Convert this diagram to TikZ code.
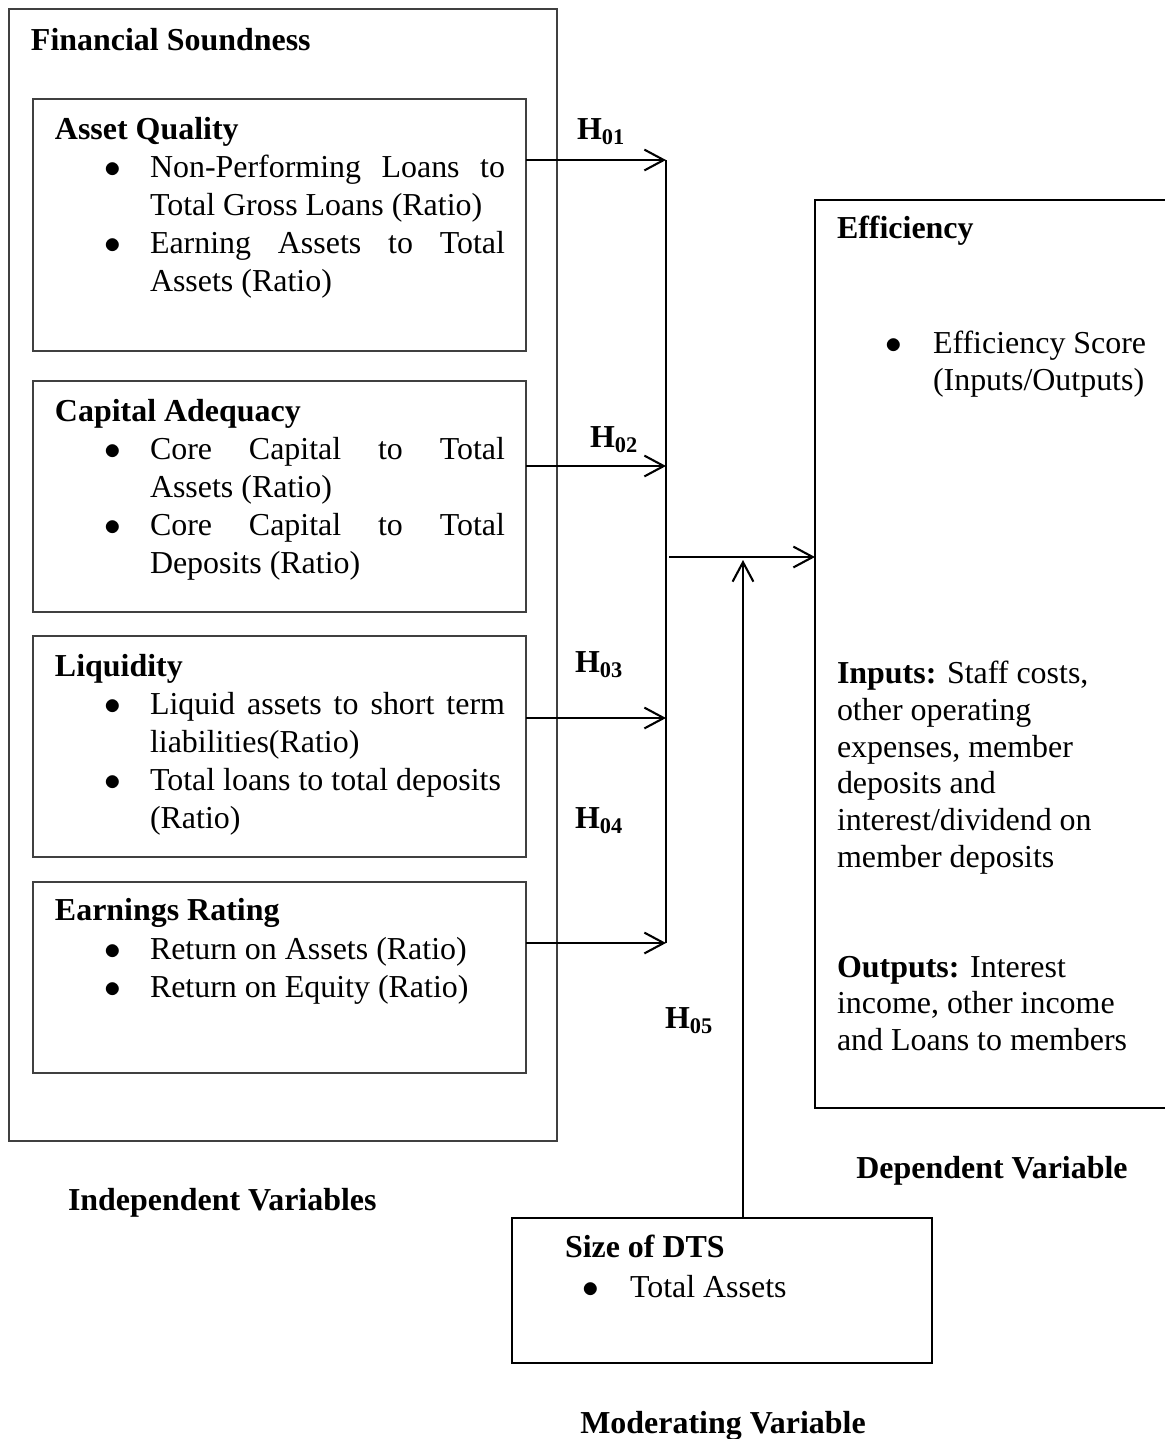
\documentclass[tikz,border=0pt]{standalone}
\usepackage{fontspec}
\setmainfont{Liberation Serif}
\usetikzlibrary{arrows.meta,fit}
\newlength\jw \setlength\jw{127.8pt}
\newcommand\jl[1]{\makebox[\jw][s]{#1}}
\newcommand\hyp[1]{\textbf{H}\textsubscript{\textbf{#1}}}
\newcommand\bul{$\bullet$}
\begin{document}
\begin{tikzpicture}[x=0.36pt,y=-0.36pt,
 every node/.style={inner sep=0pt,outer sep=0pt,font=\fontsize{11.5}{13.68}\selectfont},
 outerbox/.style={draw=black!75,line width=0.4pt},
 innerbox/.style={draw=black!75,line width=0.55pt},
 thickbox/.style={draw=black,line width=0.75pt},
 txt/.style={anchor=base west},
 ttl/.style={anchor=base west,font=\fontsize{11.5}{13.68}\selectfont\bfseries},
 lbl/.style={anchor=base,font=\fontsize{11.5}{13.68}\selectfont\bfseries},
 hl/.style={anchor=base west},
 ln/.style={line width=0.75pt},
 arr/.style={line width=0.75pt,-{Straight Barb[length=7pt,width=7.5pt]}}]
\useasboundingbox (0,0) rectangle (1165,1439);

% outer box
\node[outerbox, fit={(9,9)(557,1141)}] (fs) {};
\node[ttl] (fst) at (31,50) {Financial Soundness};

% Asset quality
\node[innerbox, fit={(33,99)(526,351)}] (aq) {};
\node[ttl] (aqt) at (55,139) {Asset Quality};
\node[txt] (aqb1) at (104,177) {\bul};
\node[txt] (aq1) at (150,177) {\jl{Non-Performing Loans to}};
\node[txt] (aq1b) at (150,215) {Total Gross Loans (Ratio)};
\node[txt] (aqb2) at (104,253) {\bul};
\node[txt] (aq2) at (150,253) {\jl{Earning Assets to Total}};
\node[txt] (aq2b) at (150,291) {Assets (Ratio)};

% Capital adequacy
\node[innerbox, fit={(33,381)(526,612)}] (ca) {};
\node[ttl] (cat) at (55,421) {Capital Adequacy};
\node[txt] (cab1) at (104,459) {\bul};
\node[txt] (ca1) at (150,459) {\jl{Core Capital to Total}};
\node[txt] (ca1b) at (150,497) {Assets (Ratio)};
\node[txt] (cab2) at (104,535) {\bul};
\node[txt] (ca2) at (150,535) {\jl{Core Capital to Total}};
\node[txt] (ca2b) at (150,573) {Deposits (Ratio)};

% Liquidity
\node[innerbox, fit={(33,636)(526,857)}] (lq) {};
\node[ttl] (lqt) at (55,676) {Liquidity};
\node[txt] (lqb1) at (104,714) {\bul};
\node[txt] (lq1) at (150,714) {\jl{Liquid assets to short term}};
\node[txt] (lq1b) at (150,752) {liabilities(Ratio)};
\node[txt] (lqb2) at (104,790) {\bul};
\node[txt] (lq2) at (150,790) {Total loans to total deposits};
\node[txt] (lq2b) at (150,828) {(Ratio)};

% Earnings
\node[innerbox, fit={(33,882)(526,1073)}] (er) {};
\node[ttl] (ert) at (55,920) {Earnings Rating};
\node[txt] (erb1) at (104,959) {\bul};
\node[txt] (er1) at (150,959) {Return on Assets (Ratio)};
\node[txt] (erb2) at (104,997) {\bul};
\node[txt] (er2) at (150,997) {Return on Equity (Ratio)};

\node[ttl] (indep) at (68,1210) {Independent Variables};

% Efficiency
\node[thickbox, fit={(815,200)(1190,1108)}] (eff) {};
\node[ttl] (efft) at (837,238) {Efficiency};
\node[txt] (effb) at (885,353) {\bul};
\node[txt] (eff1) at (933,353) {Efficiency Score};
\node[txt] (eff2) at (933,390) {(Inputs/Outputs)};
\node[txt] (in1) at (837,683) {\textbf{Inputs:} Staff costs,};
\node[txt] (in2) at (837,720) {other operating};
\node[txt] (in3) at (837,757) {expenses, member};
\node[txt] (in4) at (837,793) {deposits and};
\node[txt] (in5) at (837,830) {interest/dividend on};
\node[txt] (in6) at (837,867) {member deposits};
\node[txt] (out1) at (837,977) {\textbf{Outputs:} Interest};
\node[txt] (out2) at (837,1013) {income, other income};
\node[txt] (out3) at (837,1050) {and Loans to members};
\node[lbl] (dep) at (992,1178) {Dependent Variable};

% Size
\node[thickbox, fit={(512,1218)(932,1363)}] (sz) {};
\node[ttl] (szt) at (565,1257) {Size of DTS};
\node[txt] (szb) at (582,1297) {\bul};
\node[txt] (sz1) at (630,1297) {Total Assets};
\node[lbl] (mod) at (723,1433) {Moderating Variable};

% hypotheses labels
\node[hl] (h1) at (577,139) {\hyp{01}};
\node[hl] (h2) at (590,447) {\hyp{02}};
\node[hl] (h3) at (575,672) {\hyp{03}};
\node[hl] (h4) at (575,828) {\hyp{04}};
\node[hl] (h5) at (665,1028) {\hyp{05}};

% connectors
\coordinate (j1) at (666,160);
\coordinate (j2) at (666,466);
\coordinate (j3) at (666,718);
\coordinate (j4) at (666,943);
\coordinate (m) at (669,557);
\coordinate (up) at (743,560);
\draw[ln] (j1) -- (j4);
\draw[arr] (aq.east |- j1) -- (j1);
\draw[arr] (ca.east |- j2) -- (j2);
\draw[arr] (lq.east |- j3) -- (j3);
\draw[arr] (er.east |- j4) -- (j4);
\draw[arr] (m) -- (eff.west |- m);
\draw[arr] (sz.north -| up) -- (up);
\end{tikzpicture}
\end{document}
